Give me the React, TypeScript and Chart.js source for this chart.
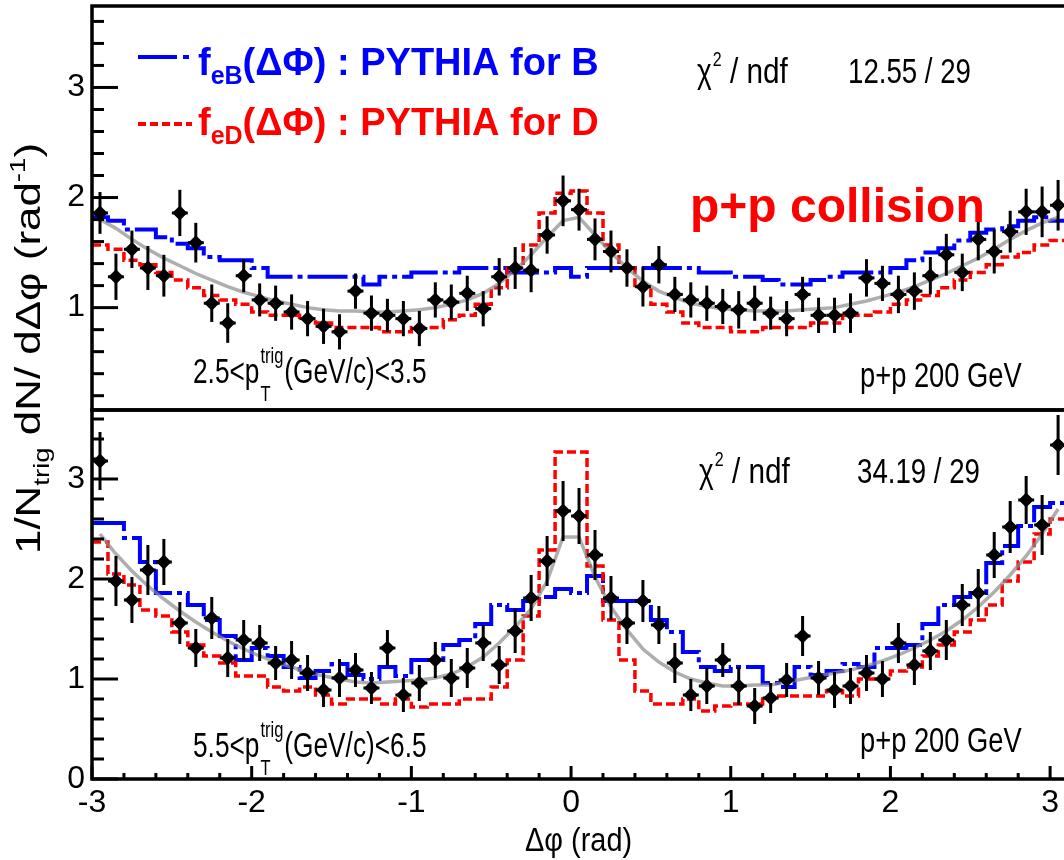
import React, { useEffect, useRef } from 'react';
import { Chart, registerables } from 'chart.js';
Chart.register(...registerables);

const FONT = "'Liberation Sans', Arial, Helvetica, sans-serif";

// bin centers of the delta-phi histograms (rad)
const binCenters = [
  -2.95, -2.85, -2.75, -2.65, -2.55, -2.45, -2.35, -2.25, -2.15, -2.05,
  -1.95, -1.85, -1.75, -1.65, -1.55, -1.45, -1.35, -1.25, -1.15, -1.05,
  -0.95, -0.85, -0.75, -0.65, -0.55, -0.45, -0.35, -0.25, -0.15, -0.05,
  0.05, 0.15, 0.25, 0.35, 0.45, 0.55, 0.65, 0.75, 0.85, 0.95,
  1.05, 1.15, 1.25, 1.35, 1.45, 1.55, 1.65, 1.75, 1.85, 1.95,
  2.05, 2.15, 2.25, 2.35, 2.45, 2.55, 2.65, 2.75, 2.85, 2.95, 3.05,
];
const binHalfWidth = 0.05;

// ---- top panel: 2.5 < pT(trig) < 3.5 ----
const topData = [
  1.86, 1.28, 1.53, 1.36, 1.29, 1.86, 1.59, 1.04, 0.86, 1.29,
  1.07, 1.04, 0.96, 0.90, 0.83, 0.78, 1.15, 0.95, 0.93, 0.90,
  0.81, 1.07, 1.05, 1.13, 0.99, 1.28, 1.36, 1.34, 1.66, 1.97,
  1.89, 1.62, 1.51, 1.36, 1.19, 1.39, 1.12, 1.07, 1.04, 1.01,
  0.98, 1.04, 0.95, 0.90, 1.12, 0.93, 0.93, 0.95, 1.27, 1.22,
  1.12, 1.15, 1.29, 1.48, 1.32, 1.62, 1.51, 1.69, 1.87, 1.87, 1.93,
];
const topErr = [
  0.19, 0.21, 0.17, 0.20, 0.19, 0.21, 0.18, 0.17, 0.18, 0.15,
  0.15, 0.16, 0.16, 0.16, 0.16, 0.16, 0.16, 0.16, 0.15, 0.16,
  0.16, 0.16, 0.16, 0.16, 0.16, 0.17, 0.19, 0.20, 0.17, 0.23,
  0.19, 0.19, 0.19, 0.17, 0.18, 0.17, 0.16, 0.16, 0.16, 0.16,
  0.17, 0.16, 0.15, 0.16, 0.16, 0.16, 0.16, 0.18, 0.17, 0.16,
  0.17, 0.17, 0.17, 0.19, 0.17, 0.19, 0.20, 0.19, 0.21, 0.23, 0.23,
];
const topB = [
  1.82, 1.79, 1.71, 1.71, 1.64, 1.58, 1.54, 1.46, 1.43, 1.43,
  1.36, 1.28, 1.28, 1.28, 1.28, 1.28, 1.28, 1.21, 1.28, 1.28,
  1.32, 1.32, 1.32, 1.36, 1.36, 1.36, 1.32, 1.32, 1.32, 1.36,
  1.28, 1.36, 1.36, 1.36, 1.36, 1.36, 1.36, 1.36, 1.32, 1.32,
  1.28, 1.28, 1.25, 1.21, 1.21, 1.25, 1.28, 1.32, 1.32, 1.32,
  1.36, 1.43, 1.50, 1.54, 1.61, 1.68, 1.71, 1.74, 1.79, 1.82, 1.79,
];
const topD = [
  1.57, 1.53, 1.43, 1.39, 1.32, 1.25, 1.18, 1.11, 1.07, 1.03,
  0.96, 0.93, 0.93, 0.89, 0.86, 0.82, 0.82, 0.82, 0.78, 0.78,
  0.82, 0.82, 0.89, 0.93, 1.03, 1.18, 1.36, 1.57, 1.86, 2.04,
  2.06, 1.86, 1.57, 1.36, 1.18, 1.03, 0.96, 0.86, 0.82, 0.82,
  0.78, 0.78, 0.82, 0.82, 0.82, 0.86, 0.86, 0.93, 0.93, 0.96,
  1.03, 1.07, 1.11, 1.18, 1.25, 1.32, 1.39, 1.46, 1.50, 1.57, 1.61,
];
const topFit = [
  1.80, 1.72, 1.62, 1.53, 1.45, 1.38, 1.31, 1.25, 1.19, 1.14,
  1.10, 1.06, 1.03, 1.00, 0.98, 0.97, 0.97, 0.96, 0.96, 0.97,
  0.98, 1.00, 1.03, 1.07, 1.13, 1.22, 1.34, 1.48, 1.64, 1.79,
  1.82, 1.66, 1.50, 1.36, 1.24, 1.15, 1.09, 1.04, 1.01, 0.99,
  0.98, 0.97, 0.97, 0.97, 0.98, 0.99, 1.00, 1.03, 1.06, 1.10,
  1.14, 1.19, 1.25, 1.31, 1.38, 1.45, 1.53, 1.62, 1.70, 1.77, 1.82,
];

// ---- bottom panel: 5.5 < pT(trig) < 6.5 ----
const botData = [
  3.18, 1.98, 1.79, 2.09, 2.17, 1.56, 1.31, 1.61, 1.21, 1.39,
  1.36, 1.16, 1.19, 1.06, 0.89, 1.01, 1.09, 0.91, 1.31, 0.84,
  0.96, 1.19, 1.01, 1.11, 1.36, 1.14, 1.48, 1.81, 2.18, 2.68,
  2.63, 2.24, 1.81, 1.56, 1.78, 1.54, 1.16, 0.84, 0.93, 1.19,
  0.93, 0.73, 0.81, 0.99, 1.43, 1.01, 0.89, 0.93, 1.06, 1.00,
  1.36, 1.14, 1.28, 1.39, 1.74, 1.86, 2.24, 2.52, 2.79, 2.54, 3.34,
];
const botErr = [
  0.29, 0.25, 0.23, 0.25, 0.23, 0.21, 0.19, 0.21, 0.19, 0.20,
  0.18, 0.17, 0.19, 0.18, 0.17, 0.19, 0.17, 0.16, 0.18, 0.17,
  0.18, 0.18, 0.19, 0.20, 0.18, 0.19, 0.22, 0.23, 0.25, 0.30,
  0.28, 0.25, 0.22, 0.21, 0.21, 0.19, 0.20, 0.16, 0.18, 0.17,
  0.19, 0.18, 0.15, 0.17, 0.20, 0.17, 0.18, 0.18, 0.18, 0.18,
  0.20, 0.20, 0.19, 0.20, 0.21, 0.24, 0.23, 0.26, 0.24, 0.30, 0.30,
];
const botB = [
  2.56, 2.56, 2.41, 2.17, 1.86, 1.86, 1.74, 1.59, 1.43, 1.19,
  1.31, 1.23, 1.12, 1.01, 1.08, 1.15, 1.04, 1.00, 1.12, 1.03,
  1.19, 1.19, 1.34, 1.39, 1.55, 1.74, 1.69, 1.78, 1.82, 1.90,
  1.86, 2.03, 1.78, 1.78, 1.78, 1.59, 1.47, 1.27, 1.12, 1.08,
  1.12, 1.12, 0.96, 0.92, 1.12, 1.04, 1.08, 1.15, 1.12, 1.31,
  1.31, 1.34, 1.55, 1.74, 1.82, 1.86, 2.16, 2.33, 2.53, 2.72, 2.76,
];
const botD = [
  2.37, 2.05, 1.94, 1.69, 1.63, 1.47, 1.34, 1.23, 1.16, 1.03,
  1.03, 0.92, 0.88, 0.92, 0.84, 0.75, 0.80, 0.80, 0.75, 0.80,
  0.72, 0.75, 0.75, 0.80, 0.80, 0.92, 1.19, 1.63, 2.29, 3.27,
  3.27, 2.13, 1.59, 1.19, 0.88, 0.75, 0.75, 0.80, 0.68, 0.73,
  0.75, 0.75, 0.80, 0.83, 0.83, 0.83, 0.88, 0.83, 1.00, 1.00,
  1.08, 1.12, 1.23, 1.34, 1.47, 1.59, 1.74, 1.98, 2.17, 2.45, 2.60,
];
const botFit = [
  2.45, 2.25, 2.08, 1.93, 1.80, 1.68, 1.57, 1.47, 1.38, 1.30,
  1.23, 1.17, 1.12, 1.07, 1.03, 1.00, 0.97, 0.96, 0.97, 0.98,
  0.99, 1.01, 1.05, 1.12, 1.22, 1.36, 1.52, 1.70, 1.98, 2.42,
  2.42, 2.02, 1.72, 1.49, 1.30, 1.17, 1.07, 1.00, 0.96, 0.93,
  0.93, 0.94, 0.94, 0.97, 1.00, 1.03, 1.06, 1.09, 1.13, 1.18,
  1.24, 1.31, 1.39, 1.48, 1.59, 1.72, 1.87, 2.04, 2.23, 2.45, 2.70,
];

const xRange = [-3, 3.087];
const topYRange = [0.07, 3.74];
const botYRange = [0, 3.69];
const chi2Labels = ['12.55 / 29', '34.19 / 29'];
const ptRanges = [['2.5', '3.5'], ['5.5', '6.5']];

function txt(ctx: CanvasRenderingContext2D, s: string, x: number, y: number, size: number,
  color = '#000', bold = false, sx = 1): number {
  ctx.save();
  ctx.font = `${bold ? 'bold ' : ''}${size}px ${FONT}`;
  ctx.fillStyle = color;
  ctx.textAlign = 'left';
  ctx.textBaseline = 'alphabetic';
  ctx.translate(x, y);
  ctx.scale(sx, 1);
  ctx.fillText(s, 0, 0);
  const w = ctx.measureText(s).width * sx;
  ctx.restore();
  return w;
}

function histPoints(vals: number[]) {
  const pts = binCenters.map((c, i) => ({ x: c - binHalfWidth, y: vals[i] }));
  const n = binCenters.length - 1;
  pts.push({ x: binCenters[n] + binHalfWidth, y: vals[n] });
  return pts;
}

function line(ctx: CanvasRenderingContext2D, x1: number, y1: number, x2: number, y2: number) {
  ctx.beginPath();
  ctx.moveTo(x1, y1);
  ctx.lineTo(x2, y2);
  ctx.stroke();
}

function ptLabel(ctx: CanvasRenderingContext2D, lo: string, hi: string, x: number, base: number) {
  const S = 35, sx = 0.75, small = 22;
  let cx = x;
  cx += txt(ctx, `${lo}<p`, cx, base, S, '#000', false, sx);
  const w1 = txt(ctx, 'trig', cx + 1, base - 20, small, '#000', false, sx);
  const w2 = txt(ctx, 'T', cx + 1, base + 18, small, '#000', false, sx);
  cx += Math.max(w1, w2) + 2;
  txt(ctx, `(GeV/c)<${hi}`, cx, base, S, '#000', false, sx);
}

function chi2Label(ctx: CanvasRenderingContext2D, val: string, x: number, xv: number, base: number) {
  const S = 35, sx = 0.8;
  const w = txt(ctx, 'χ', x, base, S, '#000', false, sx);
  txt(ctx, '2', x + w + 1, base - 17, 20, '#000', false, sx);
  txt(ctx, '/ ndf', x + 33, base, S, '#000', false, 0.85);
  txt(ctx, val, xv, base, S, '#000', false, 0.79);
}

function decor(panel: 'top' | 'bottom') {
  const isTop = panel === 'top';
  const vals = isTop ? topData : botData;
  const err = isTop ? topErr : botErr;
  return {
    id: 'decor-' + panel,
    afterDatasetsDraw(chart: any) {
      const ctx: CanvasRenderingContext2D = chart.ctx;
      const xs = chart.scales.x, ys = chart.scales.y;
      ctx.save();
      ctx.strokeStyle = '#000';
      ctx.lineWidth = 3;
      binCenters.forEach((c, i) => {
        const px = xs.getPixelForValue(c);
        const py = ys.getPixelForValue(vals[i]);
        const p1 = ys.getPixelForValue(vals[i] + err[i]);
        const p2 = ys.getPixelForValue(vals[i] - err[i]);
        const xl = xs.getPixelForValue(c - binHalfWidth);
        const xr = xs.getPixelForValue(c + binHalfWidth);
        line(ctx, px, p1, px, p2);
        line(ctx, xl, py, xr, py);
      });
      ctx.restore();
    },
    afterDraw(chart: any) {
      const ctx: CanvasRenderingContext2D = chart.ctx;
      const xs = chart.scales.x, ys = chart.scales.y;
      const { left, right, top, bottom } = chart.chartArea;
      ctx.save();
      ctx.strokeStyle = '#000';
      ctx.lineWidth = 3.5;
      ctx.beginPath();
      ctx.moveTo(right, top);
      ctx.lineTo(left, top);
      ctx.lineTo(left, bottom);
      ctx.lineTo(right, bottom);
      ctx.stroke();
      // y ticks (inward)
      ctx.lineWidth = 3;
      const k0 = Math.ceil(ys.min / 0.2 - 1e-6);
      for (let k = k0; k * 0.2 <= ys.max + 1e-6; k++) {
        const py = ys.getPixelForValue(k * 0.2);
        const major = k % 5 === 0;
        line(ctx, left, py, left + (major ? 26 : 12), py);
      }
      if (!isTop) {
        for (let k = -15; k <= 15; k++) {
          const px = xs.getPixelForValue(k * 0.2);
          const major = k % 5 === 0;
          line(ctx, px, bottom, px, bottom - (major ? 13 : 6));
        }
      }
      ctx.restore();

      if (isTop) {
        // legend
        ctx.save();
        ctx.lineWidth = 4;
        ctx.strokeStyle = '#0000ff';
        ctx.setLineDash([39, 6, 6, 40]);
        line(ctx, 138, 57, 190, 57);
        ctx.strokeStyle = '#ff0000';
        ctx.setLineDash([8, 4]);
        line(ctx, 138, 124, 192, 124);
        ctx.restore();
        const legendText = (letter: string, color: string, x: number, base: number) => {
          let cx = x;
          cx += txt(ctx, 'f', cx, base, 38, color, true);
          cx += txt(ctx, 'e' + letter, cx, base + 9, 25, color, true);
          txt(ctx, '(ΔΦ) : PYTHIA for ' + letter, cx, base, 38, color, true);
        };
        legendText('B', '#0000ff', 198, 75);
        legendText('D', '#ff0000', 198, 135);
        chi2Label(ctx, chi2Labels[0], 697, 848, 83);
        txt(ctx, 'p+p collision', 690, 222, 48, '#ff0000', true);
        ptLabel(ctx, ptRanges[0][0], ptRanges[0][1], 193, 383);
        txt(ctx, 'p+p 200 GeV', 860, 387, 35, '#000', false, 0.78);
      } else {
        chi2Label(ctx, chi2Labels[1], 699, 857, 483);
        ptLabel(ctx, ptRanges[1][0], ptRanges[1][1], 193, 757);
        txt(ctx, 'p+p 200 GeV', 860, 752, 35, '#000', false, 0.78);
        // x-axis title
        txt(ctx, 'Δφ (rad)', 525, 851, 34, '#000', false, 0.85);
        // y-axis title (rotated, spans both panels)
        ctx.save();
        ctx.translate(40, 554);
        ctx.rotate(-Math.PI / 2);
        const parts: [string, number, number][] = [
          ['1/N', 35, 0], ['trig', 22, 9], [' dN/ dΔφ (rad', 35, 0], ['-1', 22, -15], [')', 35, 0],
        ];
        let total = 0;
        parts.forEach(([s, size]) => {
          ctx.font = `${size}px ${FONT}`;
          total += ctx.measureText(s).width;
        });
        const k = 411 / total;
        let cx = 0;
        parts.forEach(([s, size, dy]) => {
          cx += txt(ctx, s, cx, dy, size, '#000', false, k);
        });
        ctx.restore();
      }
    },
  };
}

function buildConfig(panel: 'top' | 'bottom'): any {
  const isTop = panel === 'top';
  const data = isTop ? topData : botData;
  const fit = isTop ? topFit : botFit;
  const B = isTop ? topB : botB;
  const D = isTop ? topD : botD;
  const yr = isTop ? topYRange : botYRange;
  const tickFont = { family: FONT, size: 32 };
  const intLabel = (v: number) => (Math.abs(v - Math.round(v)) < 1e-6 ? String(Math.round(v)) : '');
  const noPad = (s: any) => {
    s.paddingTop = 0;
    s.paddingBottom = 0;
    s.paddingLeft = 0;
    s.paddingRight = 0;
  };
  return {
    type: 'line',
    data: {
      datasets: [
        {
          label: 'data',
          data: binCenters.map((x, i) => ({ x, y: data[i] })),
          showLine: false,
          pointStyle: 'rectRot',
          pointRadius: 7.5,
          pointBackgroundColor: '#000',
          pointBorderColor: '#000',
          pointBorderWidth: 0,
          borderColor: '#000',
        },
        {
          label: 'fit',
          data: binCenters.map((x, i) => ({ x, y: fit[i] })),
          borderColor: 'rgba(140,140,140,0.7)',
          borderWidth: 3.5,
          pointRadius: 0,
          tension: 0,
        },
        {
          label: 'D',
          data: histPoints(D),
          stepped: 'before',
          borderColor: '#ff0000',
          borderWidth: 3.5,
          borderDash: [9, 4],
          pointRadius: 0,
        },
        {
          label: 'B',
          data: histPoints(B),
          stepped: 'before',
          borderColor: '#0000ff',
          borderWidth: 4,
          borderDash: [40, 5, 5, 5],
          pointRadius: 0,
        },
      ],
    },
    options: {
      responsive: false,
      animation: false,
      devicePixelRatio: 1,
      events: [],
      layout: {
        autoPadding: false,
        padding: isTop
          ? { top: 6, left: 0, right: 0, bottom: 450 }
          : { top: 410, left: 0, right: 0, bottom: 41 },
      },
      plugins: { legend: { display: false }, tooltip: { enabled: false }, title: { display: false } },
      scales: {
        x: {
          type: 'linear',
          min: xRange[0],
          max: xRange[1],
          display: !isTop,
          grid: { display: false, drawTicks: false },
          border: { display: false },
          ticks: {
            stepSize: 1,
            includeBounds: false,
            autoSkip: false,
            maxRotation: 0,
            padding: 5,
            color: '#000',
            font: tickFont,
            callback: intLabel,
          },
          afterFit: (s: any) => {
            s.height = isTop ? 0 : 40;
            noPad(s);
          },
        },
        y: {
          type: 'linear',
          min: yr[0],
          max: yr[1],
          grid: { display: false, drawTicks: false },
          border: { display: false },
          ticks: {
            stepSize: 1,
            includeBounds: false,
            padding: 7,
            color: '#000',
            font: tickFont,
            callback: intLabel,
          },
          afterFit: (s: any) => {
            s.width = 92;
            noPad(s);
          },
        },
      },
    },
    plugins: [decor(panel)],
  };
}

export default function App() {
  const topRef = useRef<HTMLCanvasElement>(null);
  const botRef = useRef<HTMLCanvasElement>(null);
  useEffect(() => {
    const c2 = new Chart(botRef.current as HTMLCanvasElement, buildConfig('bottom'));
    const c1 = new Chart(topRef.current as HTMLCanvasElement, buildConfig('top'));
    return () => {
      c1.destroy();
      c2.destroy();
    };
  }, []);
  const cs: React.CSSProperties = { position: 'absolute', left: 0, top: 0, width: 1064, height: 860 };
  return (
    <div style={{ position: 'fixed', left: 0, top: 0, width: 1064, height: 860, background: '#fff', overflow: 'hidden' }}>
      <canvas ref={botRef} width={1064} height={860} style={cs} />
      <canvas ref={topRef} width={1064} height={860} style={cs} />
    </div>
  );
}
